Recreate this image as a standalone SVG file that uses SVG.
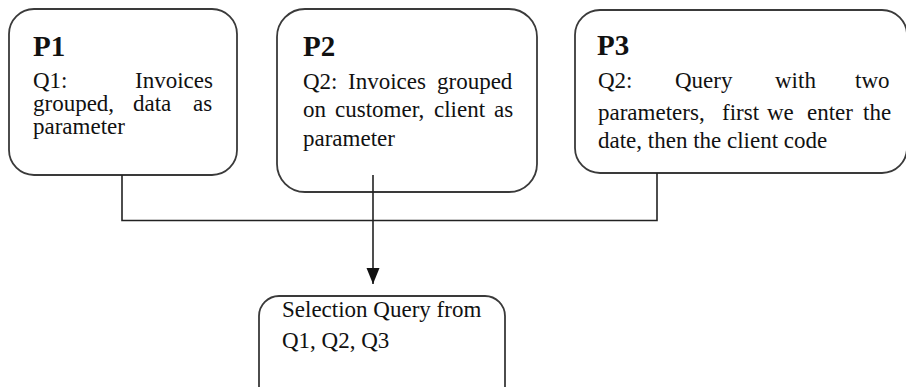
<svg xmlns="http://www.w3.org/2000/svg" width="906" height="387" viewBox="0 0 906 387">
<style>
.box{fill:#fff;stroke:#3a3a3a;stroke-width:1.8}
.t{font-family:"Liberation Serif","Times New Roman",serif;font-size:23px;fill:#111}
.h{font-family:"Liberation Serif","Times New Roman",serif;font-size:29px;font-weight:bold;fill:#111}
.c{fill:none;stroke:#222;stroke-width:1.6}
</style>
<defs>
<marker id="arr" markerWidth="17" markerHeight="14" refX="16" refY="7" orient="auto" markerUnits="userSpaceOnUse" viewBox="0 0 17 14">
<path d="M0,0.5 L16,7 L0,13.5 Z" fill="#111"/>
</marker>
</defs>
<rect width="906" height="387" fill="#fff"/>
<g id="P1">
<rect class="box" x="9" y="9" width="228" height="166" rx="25"/>
<text class="h" x="33" y="56">P1</text>
<text class="t" y="88"><tspan x="33">Q1:</tspan><tspan x="135">Invoices</tspan></text>
<text class="t" y="111"><tspan x="33">grouped,</tspan><tspan x="133">data</tspan><tspan x="193">as</tspan></text>
<text class="t" x="33" y="134">parameter</text>
</g>
<g id="P2">
<rect class="box" x="277" y="9" width="260" height="183" rx="28"/>
<text class="h" x="303" y="56">P2</text>
<text class="t" y="89"><tspan x="303">Q2:</tspan><tspan x="348">Invoices</tspan><tspan x="437">grouped</tspan></text>
<text class="t" y="117"><tspan x="303">on</tspan><tspan x="335">customer,</tspan><tspan x="434">client</tspan><tspan x="494">as</tspan></text>
<text class="t" x="303" y="146">parameter</text>
</g>
<g id="P3">
<rect class="box" x="575" y="10" width="332" height="163" rx="25"/>
<text class="h" x="597" y="55">P3</text>
<text class="t" y="88"><tspan x="598">Q2:</tspan><tspan x="675">Query</tspan><tspan x="775">with</tspan><tspan x="855">two</tspan></text>
<text class="t" y="120"><tspan x="598">parameters,</tspan><tspan x="722">first</tspan><tspan x="767">we</tspan><tspan x="807">enter</tspan><tspan x="863">the</tspan></text>
<text class="t" x="598" y="148">date, then the client code</text>
</g>
<g id="Q">
<rect class="box" x="259" y="296" width="246" height="115" rx="20"/>
<text class="t" x="282" y="317">Selection Query from</text>
<text class="t" x="282" y="348">Q1, Q2, Q3</text>
</g>
<g id="connectors">
<polyline class="c" points="122,175 122,220.5 657,220.5 657,173"/>
<line class="c" x1="373" y1="175" x2="373" y2="284" marker-end="url(#arr)"/>
</g>
</svg>
